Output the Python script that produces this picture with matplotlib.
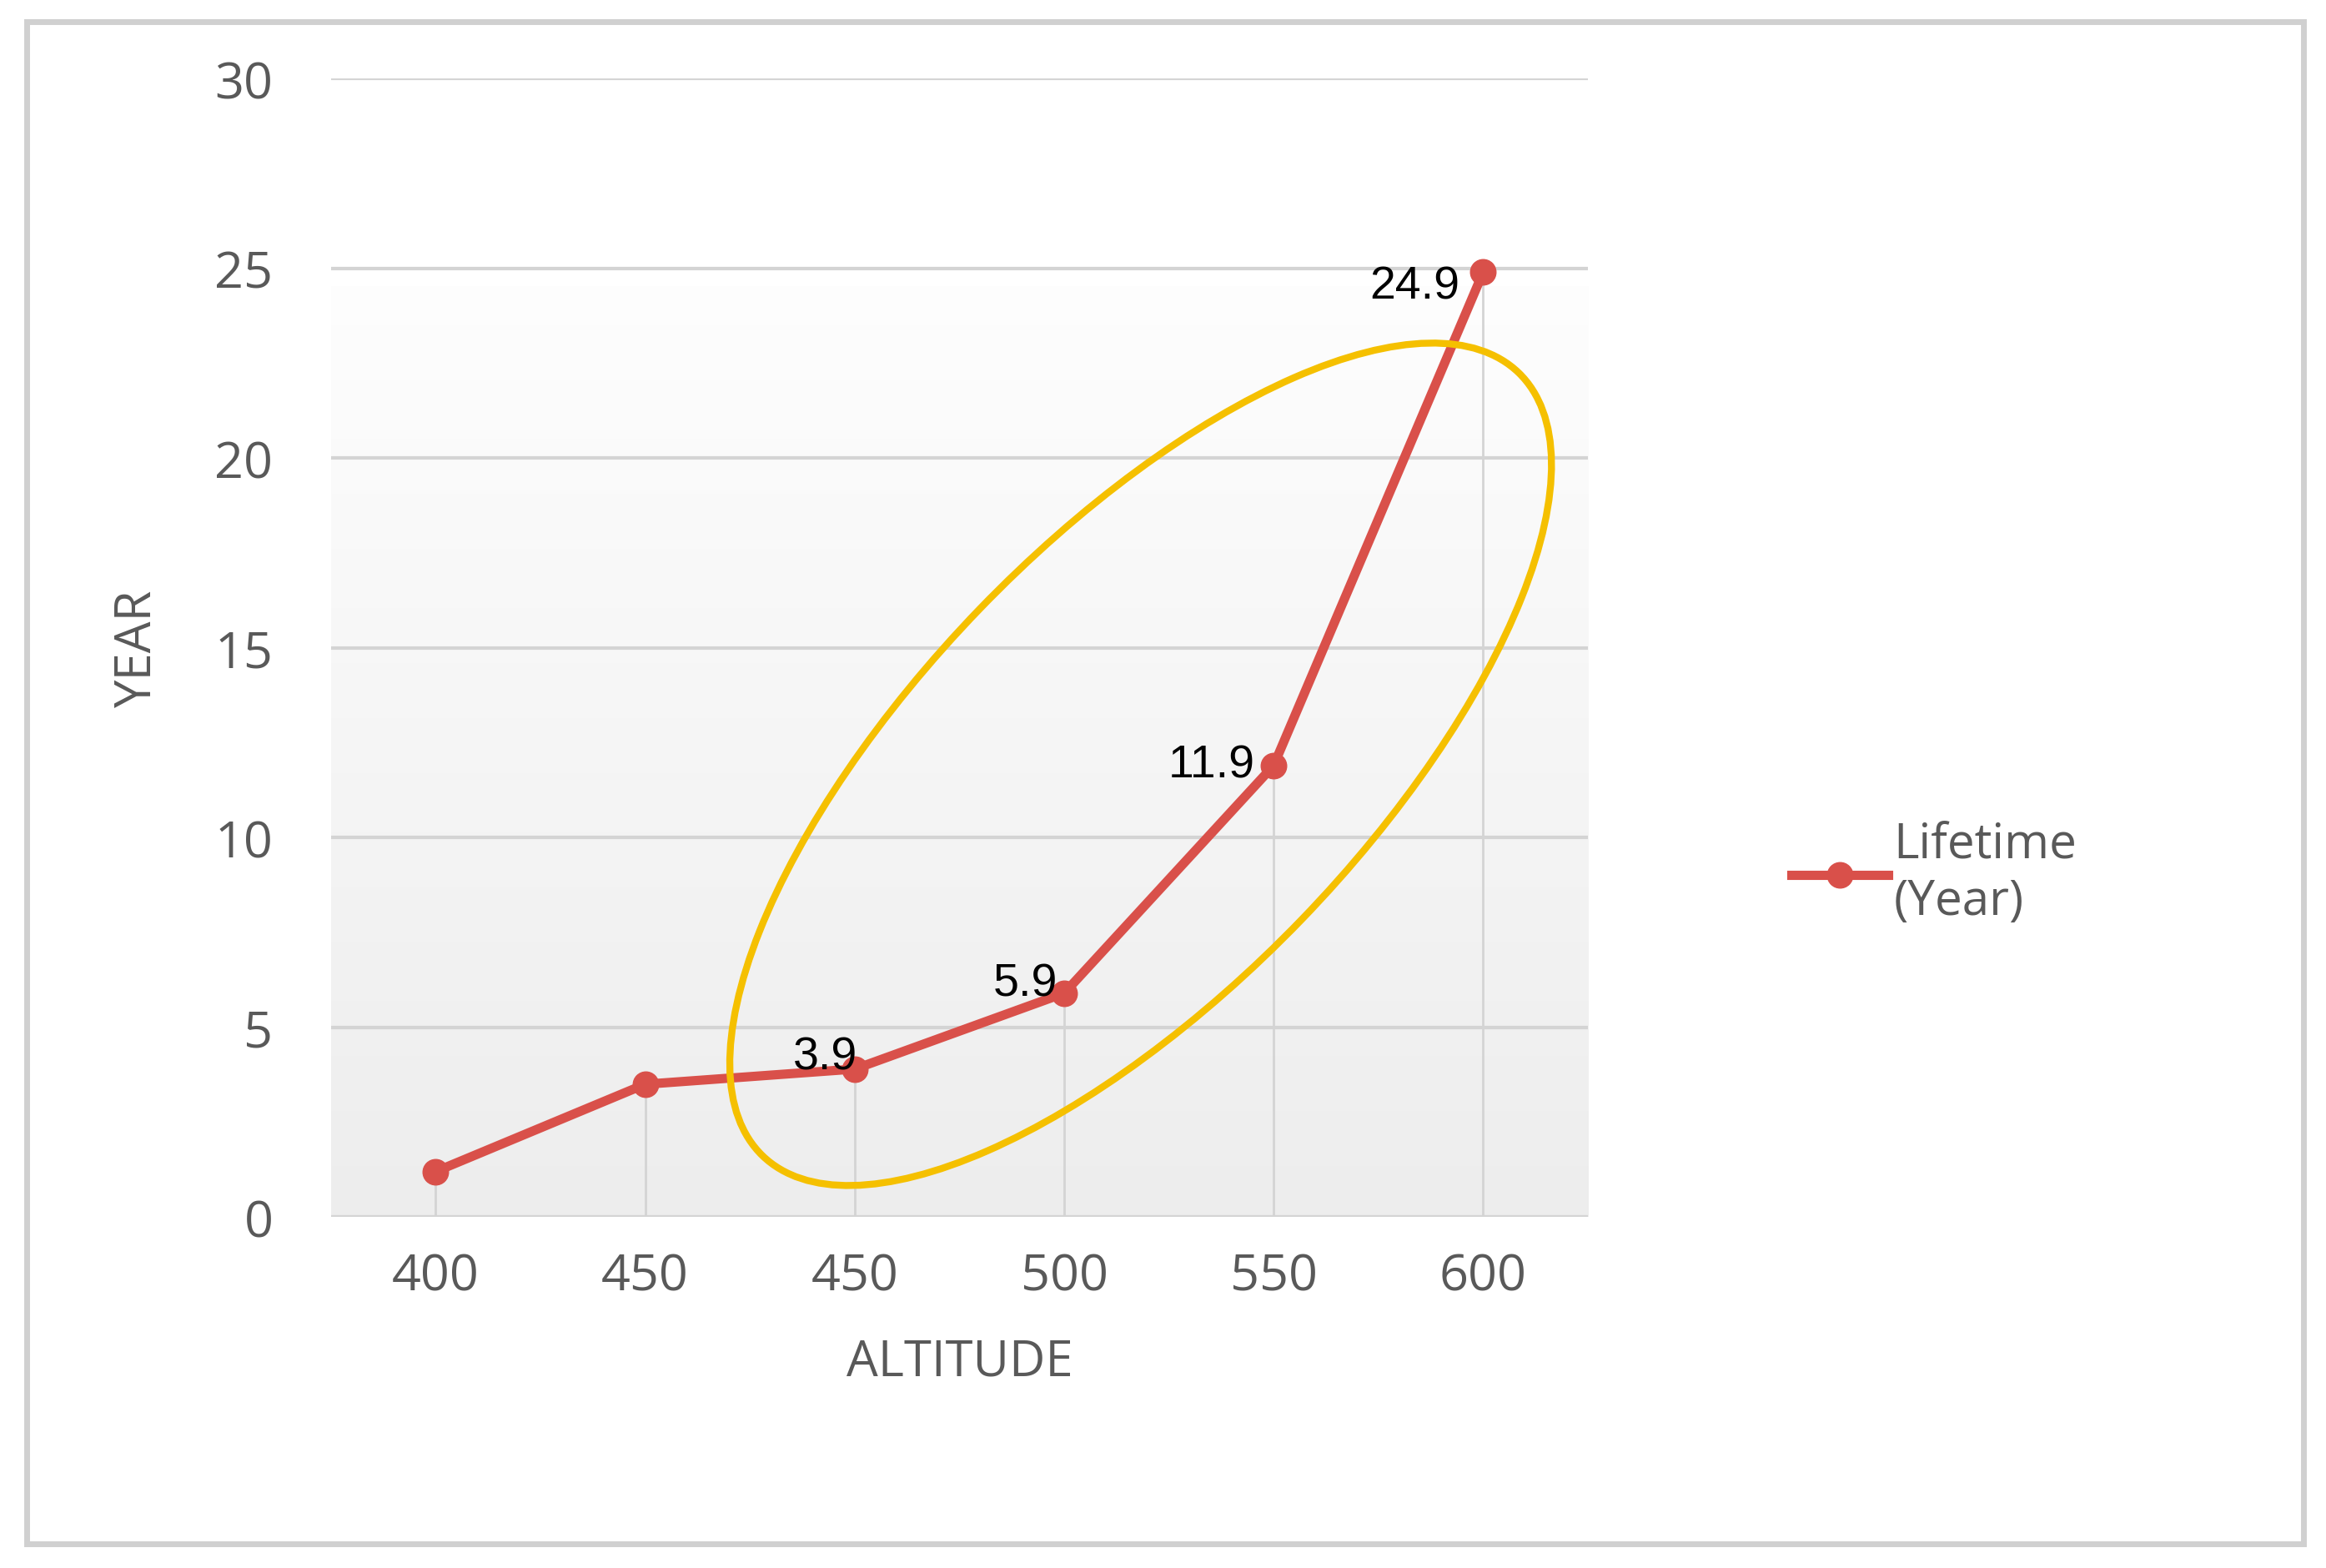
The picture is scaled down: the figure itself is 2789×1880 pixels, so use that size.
import matplotlib.pyplot as plt
import numpy as np
from matplotlib.patches import Ellipse, Rectangle
from matplotlib.transforms import IdentityTransform

# data
altitude_labels = ['400', '450', '450', '500', '550', '600']
lifetime = [1.2, 3.5, 3.9, 5.9, 11.9, 24.9]
shown_labels = [None, None, '3.9', '5.9', '11.9', '24.9']
label_offsets = [None, None, (2, 10), (-6, 8), (-16, 0), (-20, -12)]

W, H = 2789, 1881
S = W / 1560.0
fig = plt.figure(figsize=(W / 100, H / 100), dpi=100)
plt.rcParams['font.family'] = ['Open Sans', 'DejaVu Sans']

# outer border
fig.patches.append(Rectangle((18 / 1560, 1 - 1030 / 1046), 1527 / 1560, 1015 / 1046,
                             transform=fig.transFigure, fill=False,
                             edgecolor='#d0d0d0', linewidth=5))

ax = fig.add_axes([222 / 1560, 1 - 812 / 1046, 843 / 1560, 759 / 1046])
x = np.arange(len(lifetime))
ax.set_xlim(-0.5, len(lifetime) - 0.5)
ax.set_ylim(0, 30)

# gradient background
grad = np.linspace(0.93, 1.0, 256).reshape(-1, 1)
grad[grad > 0.995] = 1.0
ax.imshow(np.dstack([grad] * 3), extent=[-0.5, 5.5, 0, 26.5], aspect='auto',
          origin='lower', zorder=0)

ax.set_yticks(range(0, 31, 5))
ax.grid(axis='y', color='#d4d4d4', linewidth=3)
for xi in x:
    ax.axvline(xi, ymin=0, ymax=lifetime[xi] / 30, color='#d4d4d4', linewidth=2, zorder=1)
for s in ax.spines.values():
    s.set_visible(False)
ax.axhline(0, color='#d4d4d4', linewidth=3)

ax.plot(x, lifetime, color='#d9504a', linewidth=8, marker='o', markersize=22,
        label='Lifetime\n(Year)', zorder=3)
for xi, yi, lab, off in zip(x, lifetime, shown_labels, label_offsets):
    if lab:
        ax.annotate(lab, (xi, yi), xytext=off, textcoords='offset points',
                    ha='right', va='center', fontsize=40, family='Liberation Sans',
                    color='black', zorder=4)

ax.set_xticks(x)
ax.set_xticklabels(altitude_labels)
ax.tick_params(axis='both', length=0, labelsize=44, labelcolor='#595959', pad=30)
ax.tick_params(axis='y', pad=50)
ax.set_xlabel('ALTITUDE', fontsize=43, color='#595959', labelpad=30)
ax.set_ylabel('YEAR', fontsize=43, color='#595959', labelpad=45)

# highlight ellipse
ax.add_artist(Ellipse((765 * S, (1046 - 507) * S), 730 * S, 300 * S, angle=46,
                      transform=IdentityTransform(), fill=False,
                      edgecolor='#f5c000', linewidth=6, zorder=5))

fig.legend(loc='center left', bbox_to_anchor=(1172 / 1560, 1 - 583 / 1046),
           frameon=False, fontsize=42, handlelength=2.0, handletextpad=0.1,
           labelcolor='#595959')

fig.savefig('out.png', dpi=100, facecolor='white')
